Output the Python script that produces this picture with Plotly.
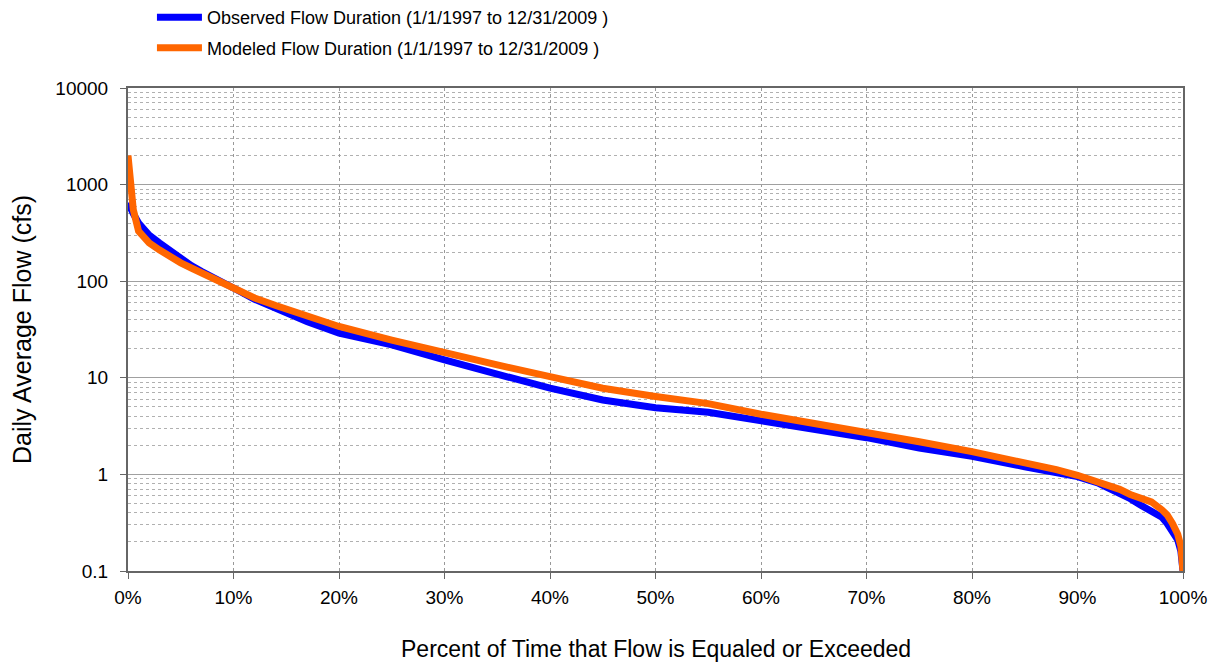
import plotly.graph_objects as go

# Percent of time flow equaled or exceeded
pct_obs = [0, 0.2, 0.5, 1, 1.5, 2, 3, 4, 5, 6, 7, 8, 10, 12, 14, 17, 20, 25, 30, 35,
           40, 45, 50, 55, 60, 65, 70, 75, 80, 85, 88, 90, 92, 94, 95, 96, 97, 98,
           98.5, 99, 99.5, 99.8, 100]
flow_obs = [650, 600, 500, 400, 340, 300, 248, 205, 174, 145, 126, 112, 85, 65, 52, 38,
            29, 21.9, 15.3, 10.7, 7.8, 5.9, 4.9, 4.4, 3.6, 2.9, 2.4, 1.87, 1.54, 1.2,
            1.05, 0.95, 0.81, 0.64, 0.56, 0.48, 0.41, 0.36, 0.31, 0.26, 0.21, 0.16, 0.1]

pct_mod = [0, 0.2, 0.5, 1, 1.5, 2, 3, 4, 5, 6, 7, 8, 10, 12, 14, 17, 20, 25, 30, 35,
           40, 45, 50, 55, 60, 65, 70, 75, 80, 85, 88, 90, 92, 94, 95, 96, 97, 98,
           98.5, 99, 99.5, 99.8, 100]
flow_mod = [2000, 1100, 550, 330, 280, 250, 210, 178, 155, 137, 121, 108, 85, 67, 56, 44,
            34, 24.6, 18, 13.6, 10.3, 7.8, 6.4, 5.4, 4.2, 3.4, 2.7, 2.18, 1.72, 1.33,
            1.12, 0.98, 0.84, 0.7, 0.62, 0.57, 0.52, 0.43, 0.38, 0.31, 0.24, 0.18, 0.1]

x_ticks = [0, 10, 20, 30, 40, 50, 60, 70, 80, 90, 100]
x_ticktext = [f"{v}%" for v in x_ticks]
y_ticks = [0.1, 1, 10, 100, 1000, 10000]
y_ticktext = ["0.1", "1", "10", "100", "1000", "10000"]

x_title = "Percent of Time that Flow is Equaled or Exceeded"
y_title = "Daily Average Flow (cfs)"

FONT = "Arial, Liberation Sans, sans-serif"

fig = go.Figure()
fig.add_trace(go.Scatter(
    x=pct_obs, y=flow_obs, mode="lines",
    name="Observed Flow Duration (1/1/1997 to 12/31/2009 )",
    line=dict(color="#0000FF", width=7), legendgroup="a"))
fig.add_trace(go.Scatter(
    x=pct_mod, y=flow_mod, mode="lines",
    name="Modeled Flow Duration (1/1/1997 to 12/31/2009 )",
    line=dict(color="#FF6600", width=7), legendgroup="b"))

fig.update_layout(
    width=1211, height=657,
    margin=dict(l=120, r=36, t=80, b=94, autoexpand=False),
    paper_bgcolor="white", plot_bgcolor="white",
    font=dict(family=FONT, size=19, color="black"),
    legend=dict(x=0.0227, y=1.184, xanchor="left", yanchor="top",
                bgcolor="rgba(0,0,0,0)", font=dict(size=18),
                tracegroupgap=4, traceorder="grouped", itemwidth=45),
    xaxis=dict(
        range=[0, 100], tickvals=x_ticks, ticktext=x_ticktext,
        showgrid=True, gridcolor="#999999", griddash="dot", gridwidth=1,
        showline=True, linecolor="#666666", linewidth=2, mirror=True,
        ticks="outside", ticklen=6, tickcolor="#666666",
        zeroline=False, tickfont=dict(size=19), ticklabelstandoff=2,
        automargin=False,
    ),
    yaxis=dict(
        type="log", range=[-1, 4], tickvals=y_ticks, ticktext=y_ticktext,
        showgrid=True, gridcolor="#A0A0A0", gridwidth=1,
        showline=True, linecolor="#666666", linewidth=2, mirror=True,
        ticks="outside", ticklen=6, tickcolor="#666666",
        zeroline=False, tickfont=dict(size=19), ticklabelstandoff=8,
        automargin=False,
        minor=dict(dtick="D1", showgrid=True, gridcolor="#B0B0B0",
                   griddash="dot", gridwidth=1, ticks=""),
        title=dict(text=y_title, font=dict(size=25), standoff=24),
    ),
    annotations=[dict(text=x_title, xref="paper", yref="paper", x=0.5, y=-0.161,
                      xanchor="center", yanchor="middle", showarrow=False,
                      font=dict(size=23))],
)

fig.write_html("out.html")
